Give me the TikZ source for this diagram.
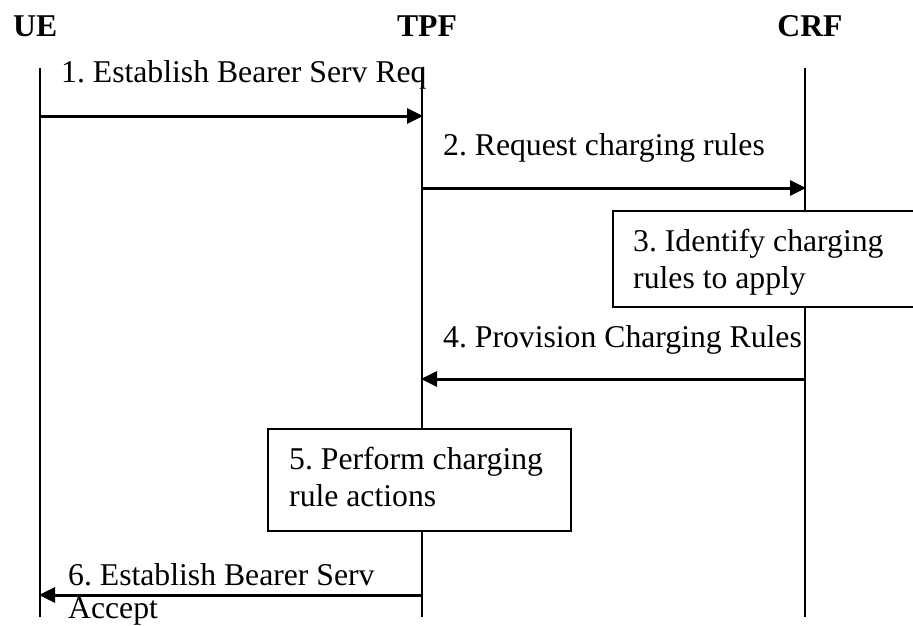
\documentclass[tikz,border=0pt]{standalone}
\usepackage{fontspec}
\setmainfont{Liberation Serif}
\usetikzlibrary{arrows.meta}
\frenchspacing
\begin{document}
\begin{tikzpicture}[x=1pt,y=-1pt,
  every node/.style={font=\fontsize{31.7}{37}\selectfont\frenchspacing},
  head/.style={font=\fontsize{31.7}{37}\selectfont\bfseries, anchor=base, inner sep=0},
  lifeline/.style={line width=1.2pt},
  msg/.style={line width=3pt, -{Triangle[length=16pt,width=15pt]}, shorten >=-1pt},
  msglabel/.style={anchor=base west, inner sep=0},
  boxline/.style={line width=1.5pt}
]
\useasboundingbox (0,0) rectangle (913,625);

% headers
\node[head, anchor=base west] (ueh) at (13,36) {UE};
\node[head] (tpfh) at (427,36) {TPF};
\node[head] (crfh) at (810,36) {CRF};

% lifeline end points
\coordinate (uet) at (40,68);  \coordinate (ueb) at (40,617);
\coordinate (tpft) at (422,68); \coordinate (tpfb) at (422,617);
\coordinate (crft) at (805,68); \coordinate (crfb) at (805,617);
\draw[lifeline] (uet) -- (ueb);
\draw[lifeline] (tpft) -- (tpfb);
\draw[lifeline] (crft) -- (crfb);

% message points
\coordinate (m1a) at (40,116);  \coordinate (m1b) at (422,116);
\coordinate (m2a) at (422,188); \coordinate (m2b) at (805,188);
\coordinate (m4a) at (805,379); \coordinate (m4b) at (422,379);
\coordinate (m6a) at (422,595); \coordinate (m6b) at (40,595);

% 1
\node[msglabel] (l1) at (61,82) {1. Establish Bearer Serv Req};
\draw[msg] (m1a) -- (m1b);
% 2
\node[msglabel] (l2) at (443,155) {2. Request charging rules};
\draw[msg] (m2a) -- (m2b);
% 3 (box runs off the right edge of the picture)
\coordinate (b3ne) at (960,211); \coordinate (b3nw) at (613,211);
\coordinate (b3sw) at (613,307); \coordinate (b3se) at (960,307);
\fill[white] (b3nw) rectangle (b3se);
\draw[boxline] (b3ne) -- (b3nw) -- (b3sw) -- (b3se);
\node[msglabel, align=left] (b3) at (633,288) {3. Identify charging\\rules to apply};
% 4
\node[msglabel] (l4) at (443,347) {4. Provision Charging Rules};
\draw[msg] (m4a) -- (m4b);
% 5
\coordinate (b5nw) at (268,429); \coordinate (b5se) at (571,531);
\filldraw[boxline, fill=white] (b5nw) rectangle (b5se);
\node[msglabel, align=left] (b5) at (289,506) {5. Perform charging\\rule actions};
% 6
\node[msglabel, align=left, font=\fontsize{31.7}{33}\selectfont\frenchspacing] (l6) at (68,618)
  {6. Establish Bearer Serv\\Accept};
\draw[msg] (m6a) -- (m6b);
\end{tikzpicture}
\end{document}
